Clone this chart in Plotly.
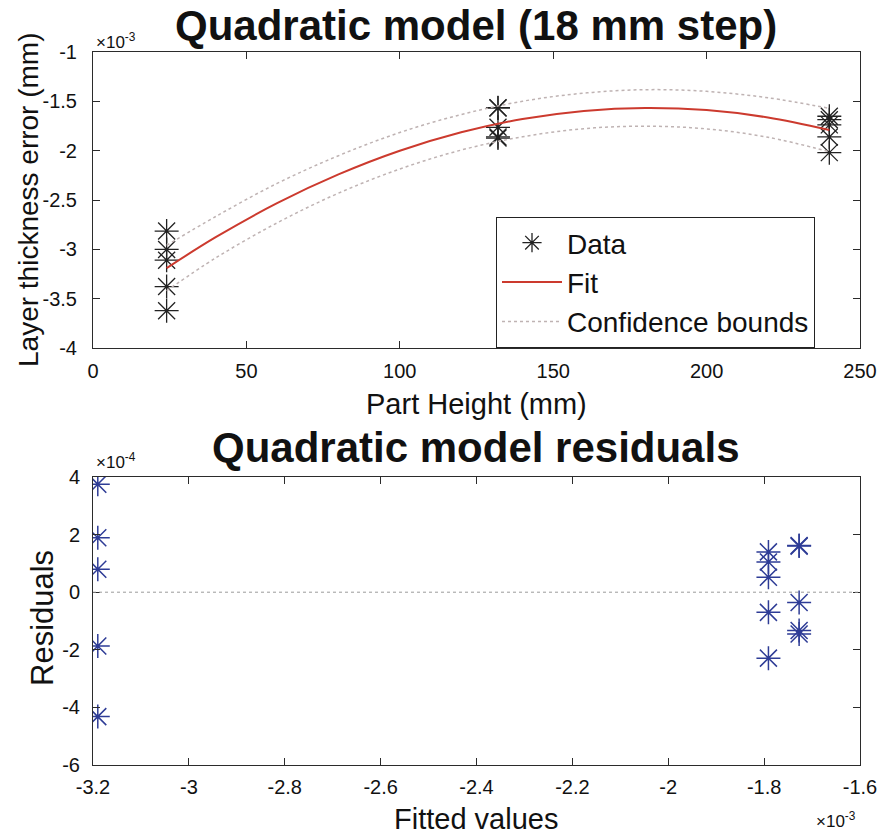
import plotly.graph_objects as go

# ---------------- data ----------------
# top panel: layer thickness error (x1e-3 mm) vs part height (mm)
part_height = [24, 24, 24, 24, 24, 132, 132, 132, 132, 132, 240, 240, 240, 240, 240]
thickness_err = [-2.815, -3.001, -3.110, -3.377, -3.622,
                 -1.567, -1.565, -1.763, -1.860, -1.872,
                 -1.651, -1.686, -1.739, -1.861, -2.020]

fit_x = [24, 40, 60, 80, 100, 120, 140, 160, 180, 200, 220, 240]
fit_y = [-3.190, -2.877, -2.532, -2.241, -2.001, -1.814, -1.679, -1.597, -1.567, -1.589, -1.664, -1.791]
upper_y = [-2.960, -2.667, -2.332, -2.051, -1.816, -1.634, -1.499, -1.417, -1.382, -1.399, -1.464, -1.571]
lower_y = [-3.420, -3.087, -2.732, -2.431, -2.186, -1.994, -1.859, -1.777, -1.752, -1.779, -1.864, -2.011]

# bottom panel: residuals (x1e-4) vs fitted values (x1e-3)
fitted_vals = [-3.19, -3.19, -3.19, -3.19, -3.19,
               -1.727, -1.727, -1.727, -1.727, -1.727,
               -1.791, -1.791, -1.791, -1.791, -1.791]
residuals = [3.75, 1.89, 0.80, -1.87, -4.32,
             1.60, 1.62, -0.36, -1.33, -1.45,
             1.40, 1.05, 0.52, -0.70, -2.29]

top_xticks = [0, 50, 100, 150, 200, 250]
top_xlabels = ["0", "50", "100", "150", "200", "250"]
top_yticks = [-4, -3.5, -3, -2.5, -2, -1.5, -1]
top_ylabels = ["-4", "-3.5", "-3", "-2.5", "-2", "-1.5", "-1"]
bot_xticks = [-3.2, -3.0, -2.8, -2.6, -2.4, -2.2, -2.0, -1.8, -1.6]
bot_xlabels = ["-3.2", "-3", "-2.8", "-2.6", "-2.4", "-2.2", "-2", "-1.8", "-1.6"]
bot_yticks = [-6, -4, -2, 0, 2, 4]
bot_ylabels = ["-6", "-4", "-2", "0", "2", "4"]

# ---------------- figure ----------------
W, H = 878, 840
FONT = "Liberation Sans, Arial, Helvetica, sans-serif"
AX = "#2b2b2b"

fig = go.Figure()

fig.add_trace(go.Scatter(
    x=part_height, y=thickness_err, mode="markers", name="Data",
    marker=dict(symbol="asterisk-open", size=20, color="#222222",
                line=dict(color="#222222", width=1.3)),
    xaxis="x", yaxis="y"))
fig.add_trace(go.Scatter(
    x=fit_x, y=fit_y, mode="lines", name="Fit", line_shape="spline",
    line=dict(color="#cc3a2e", width=2), xaxis="x", yaxis="y"))
fig.add_trace(go.Scatter(
    x=fit_x, y=upper_y, mode="lines", name="Confidence bounds", line_shape="spline",
    line=dict(color="#bfb3b3", width=1.5, dash="dot"), xaxis="x", yaxis="y",
    legendgroup="cb"))
fig.add_trace(go.Scatter(
    x=fit_x, y=lower_y, mode="lines", name="Confidence bounds", line_shape="spline",
    line=dict(color="#bfb3b3", width=1.5, dash="dot"), xaxis="x", yaxis="y",
    legendgroup="cb", showlegend=False))

fig.add_trace(go.Scatter(
    x=fitted_vals, y=residuals, mode="markers", showlegend=False,
    marker=dict(symbol="asterisk-open", size=20, color="#2e3c96",
                line=dict(color="#2e3c96", width=1.5)),
    xaxis="x2", yaxis="y2"))

def px_x(p):
    return p / W

def px_y(p):
    return 1 - p / H

axis_common = dict(showline=True, linecolor=AX, linewidth=1, mirror="ticks",
                   ticks="inside", ticklen=7, tickcolor=AX, showgrid=False,
                   zeroline=False, automargin=False,
                   tickfont=dict(family=FONT, size=20, color="#111111"))

fig.update_layout(
    width=W, height=H,
    margin=dict(l=0, r=0, t=0, b=0, autoexpand=False),
    paper_bgcolor="white", plot_bgcolor="white",
    font=dict(family=FONT, color="#111111"),
    xaxis=dict(domain=[px_x(93), px_x(860)], range=[0, 250], tickvals=top_xticks,
               ticktext=top_xlabels, anchor="y", ticklabelstandoff=5, **axis_common),
    yaxis=dict(domain=[px_y(348), px_y(52)], range=[-4, -1], tickvals=top_yticks,
               ticktext=top_ylabels, anchor="x", ticklabelstandoff=11, **axis_common),
    xaxis2=dict(domain=[px_x(93), px_x(860)], range=[-3.2, -1.6], tickvals=bot_xticks,
                ticktext=bot_xlabels, anchor="y2", ticklabelstandoff=4, **axis_common),
    yaxis2=dict(domain=[px_y(765), px_y(477)], range=[-6, 4], tickvals=bot_yticks,
                ticktext=bot_ylabels, anchor="x2", ticklabelstandoff=8, **axis_common),
    legend=dict(x=px_x(496), y=px_y(217), xanchor="left", yanchor="top",
                bgcolor="white", bordercolor="#222222", borderwidth=1,
                font=dict(family=FONT, size=28, color="#111111"),
                itemwidth=60, tracegroupgap=0),
    showlegend=True,
)

# zero line in residual plot
fig.add_shape(type="line", xref="x2 domain", yref="y2", x0=0, x1=1, y0=0, y1=0,
              line=dict(color="#9a9a9a", width=1, dash="dot"))

def ann(text, x, y, size, bold=False, angle=0, xanchor="center", yanchor="middle"):
    fig.add_annotation(text=f"<b>{text}</b>" if bold else text,
                       x=px_x(x), y=px_y(y), xref="paper", yref="paper",
                       showarrow=False, textangle=angle, xanchor=xanchor, yanchor=yanchor,
                       font=dict(family=FONT, size=size, color="#111111"))

ann("Quadratic model (18 mm step)", 476, 25, 42, bold=True)
ann("Part Height (mm)", 476, 404, 29)
ann("Layer thickness error (mm)", 28, 200, 28, angle=-90)
ann("×10<sup>-3</sup>", 94, 41, 17, xanchor="left")

ann("Quadratic model residuals", 476, 447, 42, bold=True)
ann("Fitted values", 476, 819, 29)
ann("Residuals", 42, 618, 31, angle=-90)
ann("×10<sup>-4</sup>", 94, 461, 17, xanchor="left")
ann("×10<sup>-3</sup>", 858, 820, 17, xanchor="right")

fig.write_html("out.html")
